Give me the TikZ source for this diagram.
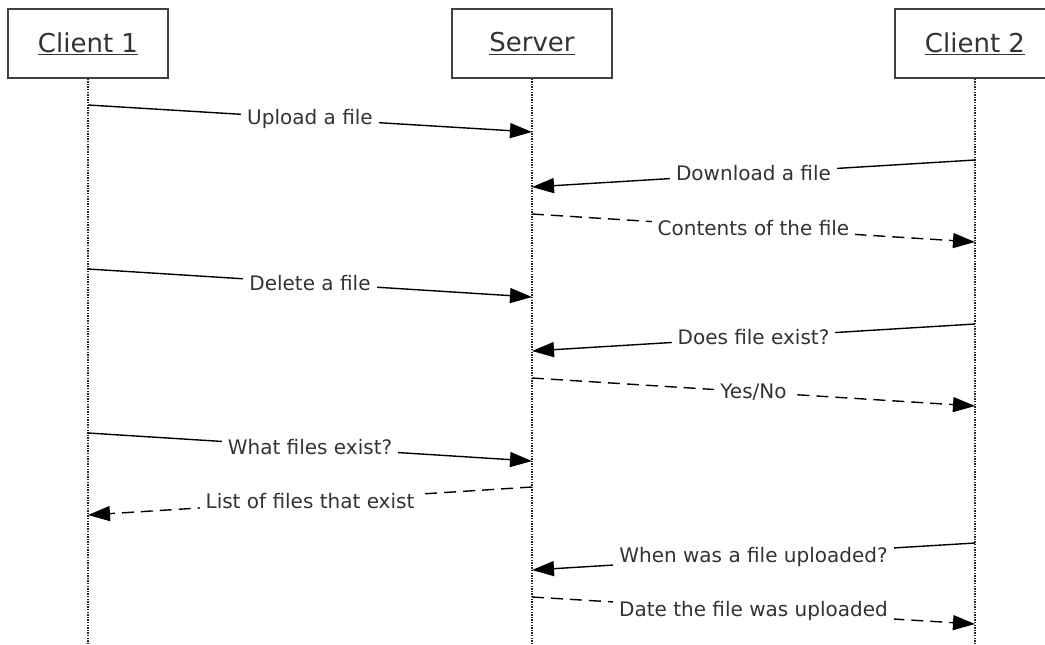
\documentclass[tikz,border=0pt]{standalone}
\usepackage{fontspec}
\setmainfont{DejaVu Sans}
\usetikzlibrary{arrows.meta}
\begin{document}
\begin{tikzpicture}[x=1pt,y=-1pt,
 head/.style={draw=black!75, line width=1.3pt, minimum width=160pt, minimum height=69pt, inner sep=0pt, font=\fontsize{26}{30}\selectfont, text=black!80},
 life/.style={draw=black!85, line width=1.3pt, dash pattern=on 1.3pt off 1.3pt},
 msg/.style={draw=black, line width=1.4pt, -{Triangle[length=22pt,width=15pt]}},
 reply/.style={msg, dash pattern=on 12pt off 7pt},
 lbl/.style={midway, fill=white, inner sep=6pt, font=\fontsize{20}{24}\selectfont, text=black!80}]
\clip (0,0) rectangle (1045,645);
\fill[white] (0,0) rectangle (1045,645);
% heads
\node[head] (c1) at (88,43.5) {\underline{Client 1}};
\node[head] (sv) at (532,43.5) {\underline{Server}};
\node[head] (c2) at (975,43.5) {\underline{Client 2}};
% lifeline ends
\coordinate (c1end) at (88,645);
\coordinate (svend) at (532,645);
\coordinate (c2end) at (975,645);
\draw[life] (c1.south) -- (c1end);
\draw[life] (sv.south) -- (svend);
\draw[life] (c2.south) -- (c2end);
% message points
\coordinate (m1a) at (88,105);  \coordinate (m1b) at (532,132);
\coordinate (m2a) at (975,160); \coordinate (m2b) at (532,187);
\coordinate (m3a) at (532,214); \coordinate (m3b) at (975,242);
\coordinate (m4a) at (88,269);  \coordinate (m4b) at (532,297);
\coordinate (m5a) at (975,324); \coordinate (m5b) at (532,351);
\coordinate (m6a) at (532,378); \coordinate (m6b) at (975,406);
\coordinate (m7a) at (88,433);  \coordinate (m7b) at (532,461);
\coordinate (m8a) at (532,487); \coordinate (m8b) at (88,515);
\coordinate (m9a) at (975,543); \coordinate (m9b) at (532,570);
\coordinate (m10a) at (532,597); \coordinate (m10b) at (975,624);
% messages
\draw[msg] (m1a) -- node[lbl] (l1) {Upload a file} (m1b);
\draw[msg] (m2a) -- node[lbl] (l2) {Download a file} (m2b);
\draw[reply] (m3a) -- node[lbl] (l3) {Contents of the file} (m3b);
\draw[msg] (m4a) -- node[lbl] (l4) {Delete a file} (m4b);
\draw[msg] (m5a) -- node[lbl] (l5) {Does file exist?} (m5b);
\draw[reply] (m6a) -- node[lbl] (l6) {Yes/No} (m6b);
\draw[msg] (m7a) -- node[lbl] (l7) {What files exist?} (m7b);
\draw[reply] (m8a) -- node[lbl] (l8) {List of files that exist} (m8b);
\draw[msg] (m9a) -- node[lbl] (l9) {When was a file uploaded?} (m9b);
\draw[reply] (m10a) -- node[lbl] (l10) {Date the file was uploaded} (m10b);
\end{tikzpicture}
\end{document}
